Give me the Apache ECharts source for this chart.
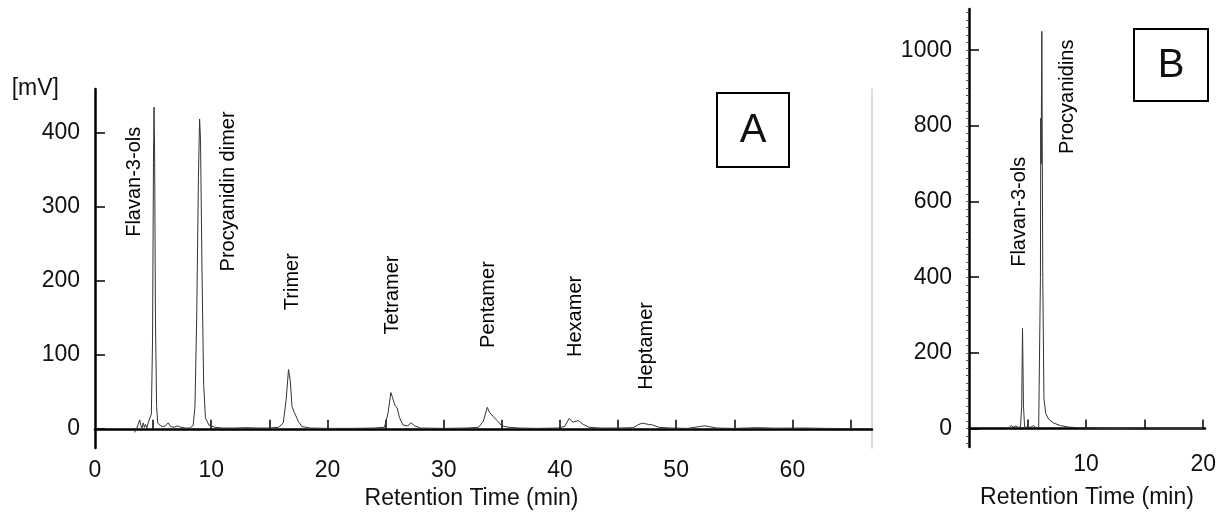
<!DOCTYPE html>
<html>
<head>
<meta charset="utf-8">
<script src="https://cdn.jsdelivr.net/npm/echarts@6/dist/echarts.min.js"></script>
<style>
    html, body { margin: 0; padding: 0; background: #fff; }
    #chart { width: 1219px; height: 515px; }
</style>
</head>
<body>
<div id="chart"></div>
<script>
// panel A: chromatogram (min, mV)
let timeA = [3.4, 3.55, 3.7, 3.85, 3.95, 4.05, 4.15, 4.25, 4.35, 4.45, 4.6, 4.75, 4.85, 4.95, 5.03, 5.08, 5.13, 5.2, 5.3, 5.4,
    5.55, 5.8, 6.05, 6.3, 6.5, 6.8, 7.1, 7.4, 7.8, 8.2, 8.45, 8.6, 8.75, 8.9, 9.0, 9.08, 9.2, 9.35, 9.5, 9.8,
    10.3, 11, 12, 13, 14, 15, 15.8, 16.2, 16.45, 16.65, 16.8, 16.95, 17.15, 17.3, 17.5, 17.8, 18.5, 20, 22, 24,
    24.9, 25.2, 25.45, 25.6, 25.8, 26.0, 26.2, 26.5, 26.9, 27.2, 27.5, 28, 30, 32, 33, 33.4, 33.75, 33.95, 34.3, 34.6,
    35, 35.6, 36.5, 38, 39.8, 40.4, 40.8, 41.1, 41.6, 42, 42.5, 43.5, 45, 46.3, 46.8, 47.1, 47.6, 48, 48.5, 49.5,
    51, 52, 52.5, 53.5, 55, 57, 58.5, 61, 63, 66.8];
let signalA = [-5, -1, -3, 12, 4, 1, 8, 2, 6, 1, 9, 10, 20, 120, 360, 435, 370, 150, 30, 8,
    5, 3, 4, 8, 3, 2, 4, 2, 1, 1, 5, 30, 150, 340, 419, 390, 220, 60, 15, 5,
    2, 1, 1, 1.5, 1, 1, 2, 8, 40, 80, 65, 30, 22, 20, 10, 3, 1, 0.5, 0.5, 1,
    2, 20, 49, 42, 32, 28, 15, 5, 4, 8, 4, 1, 0.5, 1, 2, 10, 29, 22, 16, 11,
    4, 2, 1, 0.5, 1, 3, 14, 9, 11, 6, 2, 1, 1, 1.5, 6, 7.5, 6, 5, 2, 1,
    0.5, 3, 4, 1, 0.5, 1.5, 0.8, 1, 0.5, 0];

// panel B: chromatogram (min, mV)
let timeB = [3.2, 3.4, 3.6, 3.8, 4.0, 4.2, 4.4, 4.5, 4.57, 4.65, 4.75, 5.0, 5.3, 5.5, 5.7, 5.95, 6.05, 6.1, 6.13, 6.16,
    6.22, 6.3, 6.4, 6.55, 6.8, 7.2, 7.8, 8.5, 9.5, 11, 13, 15, 17, 20];
let signalB = [-3, 2, 8, 4, 7, 3, 5, 60, 265, 60, 5, 3, 4, 8, 3, 3, 5, 400, 820, 700,
    1050, 400, 80, 40, 25, 15, 8, 4, 2, 1, 0, -1, 0, 0];

// peak annotations (anchor in min / mV)
let peakNamesA = ['Flavan-3-ols', 'Procyanidin dimer', 'Trimer', 'Tetramer', 'Pentamer', 'Hexamer', 'Heptamer'];
let peakTimeA = [3.44, 11.45, 16.95, 25.56, 33.82, 41.3, 47.48];
let peakLevelA = [334, 321, 199, 181, 168, 152, 112];
let peakNamesB = ['Flavan-3-ols', 'Procyanidins'];
let peakTimeB = [4.3, 8.45];
let peakLevelB = [573, 877];

// ticks
let xTicksA = [5, 10, 15, 20, 25, 30, 35, 40, 45, 50, 55, 60, 65];
let xLabelsA = [0, 10, 20, 30, 40, 50, 60];
let yTicksA = [0, 100, 200, 300, 400];
let xTicksB = [5, 10, 15, 20];
let xLabelsB = [10, 20];
let yTicksB = [0, 200, 400, 600, 800, 1000];
let yMinorB = [-40, -20, 0, 20, 40, 60, 80, 100, 120, 140, 160, 180, 200, 220, 240, 260, 280, 300, 320, 340, 360, 380,
    400, 420, 440, 460, 480, 500, 520, 540, 560, 580, 600, 620, 640, 660, 680, 700, 720, 740, 760, 780,
    800, 820, 840, 860, 880, 900, 920, 940, 960, 980, 1000, 1020, 1040, 1060, 1080, 1100];

let font = "'Liberation Sans', Arial, sans-serif";
let ink = '#111';

let zip = (xs, ys) => xs.map((x, i) => [x, ys[i]]);
let notes = (names, xs, ys) => names.map((n, i) => ({ name: n, value: [xs[i], ys[i]] }));
let plain = v => String(v);

let xAxisBase = (gridIndex, min, max, ticks, labels, margin, namePad) => ({
    type: 'value',
    gridIndex,
    min,
    max,
    axisLine: { lineStyle: { color: '#000', width: 2.5 } },
    axisTick: { inside: true, length: 9, customValues: ticks, lineStyle: { color: '#000', width: 1.5 } },
    axisLabel: { customValues: labels, margin, fontSize: 23, color: ink, fontFamily: font, formatter: plain },
    splitLine: { show: false },
    name: 'Retention Time (min)',
    nameLocation: 'middle',
    nameGap: 39,
    nameTextStyle: { fontSize: 23, color: ink, fontFamily: font, padding: namePad }
});

let noteLabel = { show: true, position: 'inside', rotate: 90, formatter: '{b}', fontSize: 20, color: '#000', fontFamily: font, opacity: 1 };

let option = {
    backgroundColor: '#fff',
    animation: false,
    grid: [
        { left: 95, top: 89, width: 777, height: 359 },
        { left: 969, top: 9, width: 237, height: 438 }
    ],
    xAxis: [
        xAxisBase(0, 0, 66.85, xTicksA, xLabelsA, 11, [0, 24, 0, 0]),
        xAxisBase(1, 0, 20.15, xTicksB, xLabelsB, 6, 0)
    ],
    yAxis: [
        {
            type: 'value',
            gridIndex: 0,
            position: 'left',
            min: -26,
            max: 459.5,
            axisLine: { show: true, lineStyle: { color: '#000', width: 2.5 } },
            axisTick: { show: true, inside: true, length: 10, customValues: yTicksA, lineStyle: { color: '#000', width: 1.5 } },
            axisLabel: { customValues: yTicksA, margin: 15, fontSize: 23, color: ink, fontFamily: font, formatter: plain },
            splitLine: { show: false },
            name: '[mV]',
            nameLocation: 'end',
            nameGap: 0,
            nameTextStyle: { fontSize: 23, color: ink, fontFamily: font, align: 'right', verticalAlign: 'middle', padding: [0, 36, 0, 0] }
        },
        {
            // faint right frame edge of panel A
            type: 'value',
            gridIndex: 0,
            position: 'right',
            min: -26,
            max: 459.5,
            axisLine: { show: true, lineStyle: { color: '#dcdcdc', width: 2 } },
            axisTick: { show: false },
            axisLabel: { show: false },
            splitLine: { show: false }
        },
        {
            type: 'value',
            gridIndex: 1,
            position: 'left',
            min: -48.7,
            max: 1109,
            axisLine: { show: true, lineStyle: { color: '#000', width: 2.5 } },
            axisTick: { show: true, inside: true, length: 10, customValues: yTicksB, lineStyle: { color: '#000', width: 1.5 } },
            axisLabel: { customValues: yTicksB, margin: 17, fontSize: 23, color: ink, fontFamily: font, formatter: plain },
            splitLine: { show: false }
        },
        {
            // minor ticks of panel B
            type: 'value',
            gridIndex: 1,
            position: 'left',
            offset: 0,
            min: -48.7,
            max: 1109,
            axisLine: { show: false },
            axisTick: { show: true, inside: false, length: 3, customValues: yMinorB, lineStyle: { color: '#555', width: 1 } },
            axisLabel: { show: false },
            splitLine: { show: false }
        }
    ],
    graphic: [
        {
            type: 'group', left: 716, top: 92,
            children: [
                { type: 'rect', shape: { x: 0, y: 0, width: 72, height: 74 }, style: { fill: '#fff', stroke: '#000', lineWidth: 2 } },
                { type: 'text', x: 36, y: 38, style: { text: 'A', font: '40px ' + font, fill: ink, align: 'center', verticalAlign: 'middle' } }
            ]
        },
        {
            type: 'group', left: 1133, top: 28,
            children: [
                { type: 'rect', shape: { x: 0, y: 0, width: 74, height: 72 }, style: { fill: '#fff', stroke: '#000', lineWidth: 2 } },
                { type: 'text', x: 37, y: 37, style: { text: 'B', font: '40px ' + font, fill: ink, align: 'center', verticalAlign: 'middle' } }
            ]
        }
    ],
    series: [
        {
            type: 'line',
            xAxisIndex: 0,
            yAxisIndex: 0,
            data: zip(timeA, signalA),
            showSymbol: false,
            lineStyle: { color: '#333', width: 1 },
            silent: true
        },
        {
            type: 'line',
            xAxisIndex: 1,
            yAxisIndex: 2,
            data: zip(timeB, signalB),
            showSymbol: false,
            lineStyle: { color: '#333', width: 1 },
            silent: true
        },
        {
            type: 'scatter',
            xAxisIndex: 0,
            yAxisIndex: 0,
            symbolSize: 0,
            itemStyle: { opacity: 1 },
            data: notes(peakNamesA, peakTimeA, peakLevelA),
            label: noteLabel,
            silent: true
        },
        {
            type: 'scatter',
            xAxisIndex: 1,
            yAxisIndex: 2,
            symbolSize: 0,
            itemStyle: { opacity: 1 },
            data: notes(peakNamesB, peakTimeB, peakLevelB),
            label: noteLabel,
            silent: true
        }
    ]
};

let chart = echarts.init(document.getElementById('chart'), null, { renderer: 'canvas' });
chart.setOption(option);
</script>
</body>
</html>
